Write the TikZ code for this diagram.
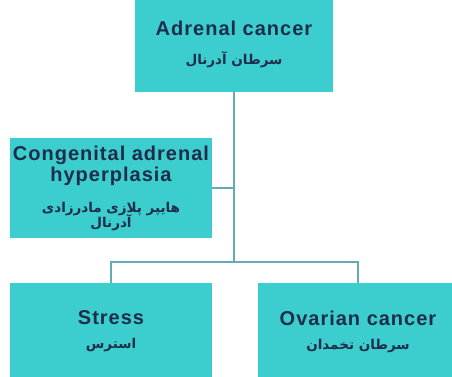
\documentclass[tikz,border=0pt]{standalone}
\usepackage{fontspec}
\setmainfont{Liberation Sans}
\newfontfamily\lat[LetterSpace=5]{Liberation Sans}
\newfontfamily\fa[Script=Arabic]{DejaVu Sans}
\TeXXeTstate=1
\definecolor{boxfill}{RGB}{60,205,206}
\definecolor{txt}{RGB}{30,45,74}
\definecolor{conn}{RGB}{100,172,180}
\newcommand{\en}[1]{{\lat\bfseries\fontsize{20pt}{24pt}\selectfont #1}}
\newcommand{\fat}[1]{{\fa\bfseries\fontsize{13.5pt}{24pt}\selectfont\beginR #1\endR}}
\newcommand{\boxfont}{\fontsize{20pt}{24pt}\selectfont\lineskiplimit=-50pt\relax}
\begin{document}
\begin{tikzpicture}[x=1pt,y=-1pt,
  box/.style={rectangle, fill=boxfill, draw=none, text=txt, align=center, inner sep=0pt,
    font=\boxfont},
  conline/.style={draw=conn, line width=2pt}]
\useasboundingbox (0,0) rectangle (452,377);
\node[box, minimum width=198pt, minimum height=96pt] (top) at (234,44)
  {\en{Adrenal cancer}\\[5pt]\fat{سرطان آدرنال}};
\node[box, minimum width=202pt, minimum height=100pt] (cah) at (111,188)
  {\en{Congenital adrenal}\\[-3pt]\en{hyperplasia}\\[7pt]\fat{هایپر پلازی مادرزادی}\\[-9pt]\fat{آدرنال}};
\node[box, minimum width=202pt, minimum height=97pt] (stress) at (111,331.5)
  {\en{Stress}\\[0pt]\fat{استرس}};
\node[box, minimum width=200pt, minimum height=97pt] (ovarian) at (358,331.5)
  {\en{Ovarian cancer}\\[0pt]\fat{سرطان تخمدان}};
\coordinate (j) at (234,262);
\draw[conline] (top.south) -- (j);
\draw[conline] (cah.east) -- (cah.east -| j);
\draw[conline] (stress.north) -- (stress.north |- j) -- (ovarian.north |- j) -- (ovarian.north);
\end{tikzpicture}
\end{document}
